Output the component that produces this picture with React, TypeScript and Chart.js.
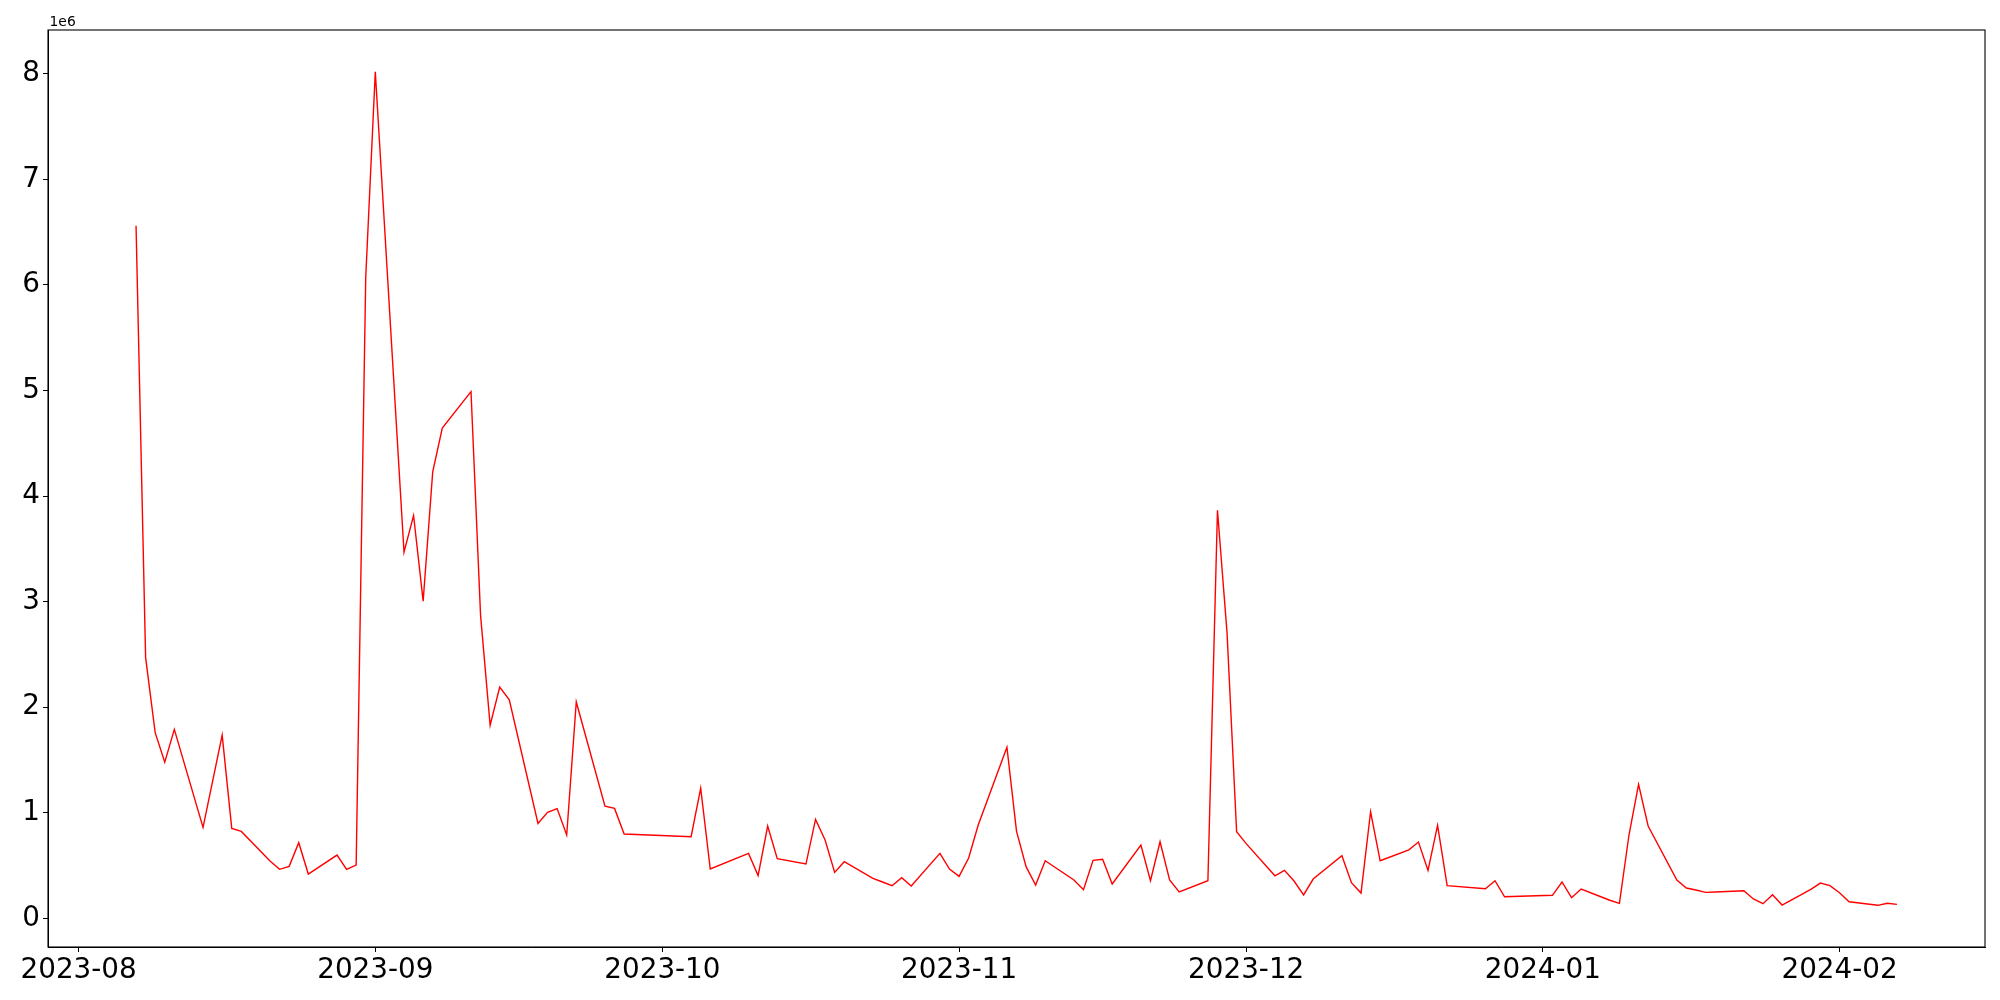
import React, { useEffect, useRef } from "react";
import { Chart, registerables } from "chart.js";

Chart.register(...registerables);

// Trading dates (YYYY-MM-DD)
const dates: string[] = [
  "2023-08-07", "2023-08-08", "2023-08-09", "2023-08-10", "2023-08-11",
  "2023-08-14", "2023-08-16", "2023-08-17", "2023-08-18",
  "2023-08-21", "2023-08-22", "2023-08-23", "2023-08-24", "2023-08-25",
  "2023-08-28", "2023-08-29", "2023-08-30", "2023-08-31", "2023-09-01",
  "2023-09-04", "2023-09-05", "2023-09-06", "2023-09-07", "2023-09-08",
  "2023-09-11", "2023-09-12", "2023-09-13", "2023-09-14", "2023-09-15",
  "2023-09-18", "2023-09-19", "2023-09-20", "2023-09-21", "2023-09-22",
  "2023-09-25", "2023-09-26", "2023-09-27",
  "2023-10-04", "2023-10-05", "2023-10-06",
  "2023-10-10", "2023-10-11", "2023-10-12", "2023-10-13",
  "2023-10-16", "2023-10-17", "2023-10-18", "2023-10-19", "2023-10-20",
  "2023-10-23", "2023-10-24", "2023-10-25", "2023-10-26", "2023-10-27",
  "2023-10-30", "2023-10-31", "2023-11-01", "2023-11-02", "2023-11-03",
  "2023-11-06", "2023-11-07", "2023-11-08", "2023-11-09", "2023-11-10",
  "2023-11-13", "2023-11-14", "2023-11-15", "2023-11-16", "2023-11-17",
  "2023-11-20", "2023-11-21", "2023-11-22", "2023-11-23", "2023-11-24",
  "2023-11-27", "2023-11-28", "2023-11-29", "2023-11-30", "2023-12-01",
  "2023-12-04", "2023-12-05", "2023-12-06", "2023-12-07", "2023-12-08",
  "2023-12-11", "2023-12-12", "2023-12-13", "2023-12-14", "2023-12-15",
  "2023-12-18", "2023-12-19", "2023-12-20", "2023-12-21", "2023-12-22",
  "2023-12-26", "2023-12-27", "2023-12-28",
  "2024-01-02", "2024-01-03", "2024-01-04", "2024-01-05",
  "2024-01-08", "2024-01-09", "2024-01-10", "2024-01-11", "2024-01-12",
  "2024-01-15", "2024-01-16", "2024-01-17", "2024-01-18", "2024-01-19",
  "2024-01-22", "2024-01-23", "2024-01-24", "2024-01-25", "2024-01-26",
  "2024-01-29", "2024-01-30", "2024-01-31", "2024-02-01", "2024-02-02",
  "2024-02-05", "2024-02-06", "2024-02-07",
];

// Values in millions (axis shows 1e6 offset)
const valuesMillions: number[] = [
  6.56, 2.47, 1.76, 1.48, 1.79,
  0.862, 1.736, 0.853, 0.824,
  0.543, 0.465, 0.493, 0.717, 0.42,
  0.60, 0.465, 0.505, 6.07, 8.02,
  3.47, 3.816, 3.005, 4.23, 4.645,
  4.99, 2.87, 1.83, 2.19, 2.07,
  0.90, 1.004, 1.04, 0.79, 2.05,
  1.064, 1.042, 0.80,
  0.774, 1.234, 0.468,
  0.616, 0.405, 0.875, 0.565,
  0.515, 0.938, 0.742, 0.436, 0.537,
  0.38, 0.345, 0.31, 0.385, 0.307,
  0.616, 0.468, 0.398, 0.572, 0.884,
  1.622, 0.827, 0.49, 0.316, 0.546,
  0.364, 0.272, 0.55, 0.56, 0.326,
  0.695, 0.357, 0.726, 0.364, 0.25,
  0.357, 3.866, 2.705, 0.821, 0.708,
  0.404, 0.455, 0.354, 0.222, 0.373,
  0.594, 0.338, 0.24, 1.01, 0.546,
  0.65, 0.723, 0.455, 0.881, 0.31,
  0.281, 0.357, 0.205,
  0.219, 0.345, 0.196, 0.278,
  0.172, 0.143, 0.79, 1.27, 0.875,
  0.364, 0.288, 0.269, 0.247, 0.25,
  0.262, 0.184, 0.139, 0.225, 0.127,
  0.275, 0.335, 0.31, 0.243, 0.158,
  0.124, 0.143, 0.133,
];

const xTickLabels: string[] = [
  "2023-08", "2023-09", "2023-10", "2023-11", "2023-12", "2024-01", "2024-02",
];

const yTickLabels: string[] = ["0", "1", "2", "3", "4", "5", "6", "7", "8"];

const DAY = 86400000;
const toDay = (s: string) => {
  const [y, m, d] = s.split("-").map(Number);
  return Date.UTC(y, m - 1, d) / DAY;
};
const monthToDay = (s: string) => toDay(s + "-01");

export default function App() {
  const ref = useRef<HTMLCanvasElement | null>(null);

  useEffect(() => {
    if (!ref.current) return;
    const pts = dates.map((d, i) => ({ x: toDay(d), y: valuesMillions[i] * 1e6 }));
    const xs = pts.map((p) => p.x);
    const ys = pts.map((p) => p.y);
    const xMin0 = Math.min(...xs), xMax0 = Math.max(...xs);
    const yMin0 = Math.min(...ys), yMax0 = Math.max(...ys);
    const xm = (xMax0 - xMin0) * 0.05;
    const ym = (yMax0 - yMin0) * 0.05;

    const xTickDays = xTickLabels.map(monthToDay);
    const yTickVals = yTickLabels.map((l) => Number(l) * 1e6);

    const font = { family: "'DejaVu Sans', sans-serif", size: 27.8 };

    const framePlugin = {
      id: "frame",
      afterDraw(chart: any) {
        const { ctx, chartArea } = chart;
        ctx.save();
        ctx.strokeStyle = "#000";
        ctx.lineWidth = 1.1;
        ctx.strokeRect(chartArea.left, chartArea.top, chartArea.right - chartArea.left, chartArea.bottom - chartArea.top);
        ctx.fillStyle = "#000";
        ctx.font = "13.9px 'DejaVu Sans', sans-serif";
        ctx.textAlign = "left";
        ctx.textBaseline = "alphabetic";
        ctx.fillText("1e6", chartArea.left + 1.5, chartArea.top - 4);
        ctx.restore();
      },
    };

    const chart = new Chart(ref.current, {
      type: "line",
      data: {
        datasets: [
          {
            data: pts,
            borderColor: "#ff0000",
            borderWidth: 1.4,
            pointRadius: 0,
            tension: 0,
            fill: false,
          },
        ],
      },
      options: {
        animation: false,
        responsive: false,
        maintainAspectRatio: false,
        parsing: false as any,
        layout: { padding: { top: 30, right: 15, left: 0, bottom: 0 } },
        plugins: { legend: { display: false }, tooltip: { enabled: false } },
        scales: {
          x: {
            type: "linear",
            min: xMin0 - xm,
            max: xMax0 + xm,
            afterBuildTicks: (scale: any) => {
              scale.ticks = xTickDays.map((v) => ({ value: v }));
            },
            afterFit: (scale: any) => {
              scale.height = 53;
            },
            ticks: {
              autoSkip: false,
              maxRotation: 0,
              color: "#000",
              font,
              padding: 2,
              callback: (v: any) => {
                const i = xTickDays.indexOf(Number(v));
                return i >= 0 ? xTickLabels[i] : "";
              },
            },
            grid: { display: true, drawOnChartArea: false, drawTicks: true, tickLength: 5, color: "#000", lineWidth: 1 },
            border: { display: true, color: "#000", width: 1 },
          },
          y: {
            type: "linear",
            min: yMin0 - ym,
            max: yMax0 + ym,
            afterBuildTicks: (scale: any) => {
              scale.ticks = yTickVals.map((v) => ({ value: v }));
            },
            afterFit: (scale: any) => {
              scale.width = 48;
            },
            ticks: {
              autoSkip: false,
              color: "#000",
              font,
              padding: 3,
              callback: (v: any) => {
                const i = yTickVals.indexOf(Number(v));
                return i >= 0 ? yTickLabels[i] : "";
              },
            },
            grid: { display: true, drawOnChartArea: false, drawTicks: true, tickLength: 5, color: "#000", lineWidth: 1 },
            border: { display: true, color: "#000", width: 1 },
          },
        },
      },
      plugins: [framePlugin],
    } as any);

    return () => chart.destroy();
  }, []);

  return (
    <div style={{ position: "fixed", left: 0, top: 0, width: 2000, height: 1000, background: "#fff" }}>
      <canvas ref={ref} width={2000} height={1000} style={{ width: 2000, height: 1000, display: "block" }} />
    </div>
  );
}
